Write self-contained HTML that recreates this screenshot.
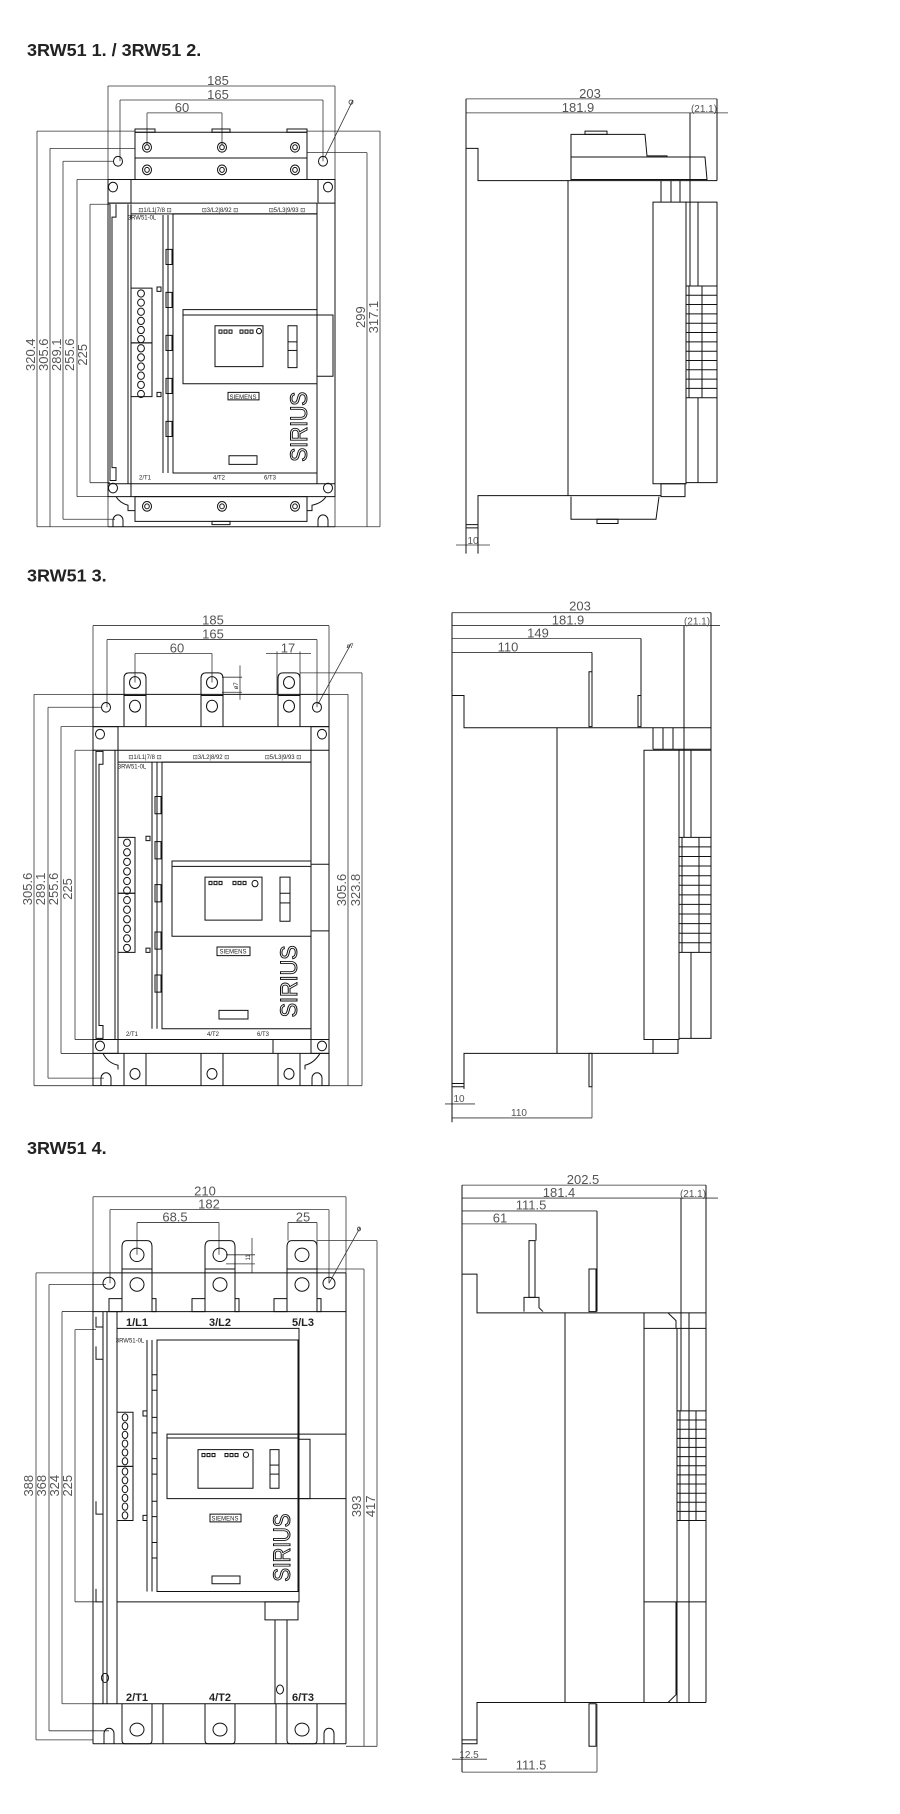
<!DOCTYPE html>
<html><head><meta charset="utf-8">
<style>
html,body{margin:0;padding:0;background:#fff;}
svg{display:block;}
.g *{vector-effect:non-scaling-stroke;}
.l{stroke:#111;stroke-width:1;fill:none;}
.t{stroke:#333;stroke-width:0.8;fill:none;}
.d{font-family:"Liberation Sans",sans-serif;font-size:13px;fill:#555;text-anchor:middle;}
.s{font-family:"Liberation Sans",sans-serif;font-size:10px;fill:#555;text-anchor:middle;}
.tt{font-family:"Liberation Sans",sans-serif;font-size:18px;font-weight:bold;fill:#222;}
.lb{font-family:"Liberation Sans",sans-serif;font-size:11px;font-weight:bold;fill:#222;text-anchor:middle;}
.tn{font-family:"Liberation Sans",sans-serif;font-size:6px;fill:#222;text-anchor:middle;}
.si{font-family:"Liberation Sans",sans-serif;font-size:24px;fill:#fff;stroke:#111;stroke-width:1;text-anchor:middle;}
</style></head><body>
<svg width="900" height="1814" viewBox="0 0 900 1814" xmlns="http://www.w3.org/2000/svg">

<!-- ============ SECTION 1 ============ -->
<g class="g" transform="scale(1,1.075)">
<text class="tt" transform="translate(27,52) scale(1,0.93)">3RW51 1. / 3RW51 2.</text>
<!-- dims top -->
<g class="t">
<line x1="108" y1="80" x2="335" y2="80"/><line x1="120" y1="93" x2="323" y2="93"/><line x1="147" y1="105" x2="222" y2="105"/>
<line x1="108" y1="80" x2="108" y2="490"/><line x1="335" y1="80" x2="335" y2="490"/>
<line x1="120" y1="93" x2="120" y2="150"/><line x1="323" y1="93" x2="323" y2="150"/>
<line x1="147" y1="105" x2="147" y2="135"/><line x1="222" y1="105" x2="222" y2="135"/>
<line x1="325" y1="146" x2="353" y2="93"/><circle cx="351" cy="95" r="2"/>
<!-- left dims -->
<line x1="37" y1="122" x2="37" y2="490"/><line x1="37" y1="122" x2="135" y2="122"/><line x1="37" y1="490" x2="108" y2="490"/>
<line x1="50" y1="138" x2="50" y2="490"/><line x1="50" y1="138" x2="135" y2="138"/>
<line x1="63" y1="150" x2="63" y2="483"/><line x1="63" y1="150" x2="113" y2="150"/><line x1="63" y1="483" x2="115" y2="483"/>
<line x1="77" y1="167" x2="77" y2="462"/><line x1="77" y1="167" x2="108" y2="167"/><line x1="77" y1="462" x2="108" y2="462"/>
<line x1="90" y1="190" x2="90" y2="449"/><line x1="90" y1="190" x2="110" y2="190"/><line x1="90" y1="449" x2="110" y2="449"/>
<!-- right dims -->
<line x1="367" y1="142" x2="367" y2="490"/><line x1="307" y1="142" x2="367" y2="142"/><line x1="335" y1="490" x2="380" y2="490"/>
<line x1="380" y1="122" x2="380" y2="490"/><line x1="307" y1="122" x2="380" y2="122"/>
</g>
<text class="d" transform="translate(218,79) scale(1,0.93)">185</text>
<text class="d" transform="translate(218,92) scale(1,0.93)">165</text>
<text class="d" transform="translate(182,104) scale(1,0.93)">60</text>
<text class="d" transform="translate(35,330) scale(1,0.93) rotate(-90)">320.4</text>
<text class="d" transform="translate(48,330) scale(1,0.93) rotate(-90)">305.6</text>
<text class="d" transform="translate(61,330) scale(1,0.93) rotate(-90)">289.1</text>
<text class="d" transform="translate(74,330) scale(1,0.93) rotate(-90)">255.6</text>
<text class="d" transform="translate(87,330) scale(1,0.93) rotate(-90)">225</text>
<text class="d" transform="translate(365,295) scale(1,0.93) rotate(-90)">299</text>
<text class="d" transform="translate(378,295) scale(1,0.93) rotate(-90)">317.1</text>
<!-- body -->
<g class="l">
<rect x="135" y="123" width="172" height="24"/>
<rect x="135" y="120" width="20" height="3"/><rect x="212" y="120" width="18" height="3"/><rect x="287" y="120" width="20" height="3"/>
<rect x="135" y="147" width="172" height="20"/>
<circle cx="147" cy="137" r="4.5"/><circle cx="222" cy="137" r="4.5"/><circle cx="295" cy="137" r="4.5"/>
<circle cx="147" cy="137" r="2.3"/><circle cx="222" cy="137" r="2.3"/><circle cx="295" cy="137" r="2.3"/>
<circle cx="147" cy="158" r="4.5"/><circle cx="222" cy="158" r="4.5"/><circle cx="295" cy="158" r="4.5"/>
<circle cx="147" cy="158" r="2.3"/><circle cx="222" cy="158" r="2.3"/><circle cx="295" cy="158" r="2.3"/>
<circle cx="118" cy="150" r="4.5"/><circle cx="323" cy="150" r="4.5"/>
<rect x="108" y="167" width="227" height="295"/>
<rect x="108" y="167" width="23" height="22"/><rect x="318" y="167" width="17" height="22"/>
<circle cx="113" cy="174" r="4.5"/><circle cx="328" cy="174" r="4.5"/><circle cx="113" cy="454" r="4.5"/><circle cx="328" cy="454" r="4.5"/>
<line x1="108" y1="189" x2="317" y2="189"/><line x1="317" y1="189" x2="317" y2="450"/><line x1="108" y1="450" x2="335" y2="450"/>
<path d="M110,190 V447 H116 V435 H112 V202 H116 V190"/>
<line x1="128" y1="190" x2="128" y2="450"/><line x1="131" y1="190" x2="131" y2="462"/>
<line x1="131" y1="199" x2="317" y2="199"/>
<rect x="173" y="199" width="144" height="241"/>
<line x1="163" y1="200" x2="163" y2="440"/><line x1="168" y1="200" x2="168" y2="440"/>
<rect x="166" y="232" width="6" height="14"/><rect x="166" y="272" width="6" height="14"/><rect x="166" y="312" width="6" height="14"/><rect x="166" y="352" width="6" height="14"/><rect x="166" y="392" width="6" height="14"/>
<rect x="131" y="268" width="21" height="51"/><rect x="131" y="319" width="21" height="50"/>
<rect x="157" y="267" width="4" height="4"/><rect x="157" y="365" width="4" height="4"/>
<rect x="183" y="288" width="134" height="69"/><line x1="183" y1="293" x2="317" y2="293"/>
<rect x="317" y="293" width="16" height="57"/>
<rect x="215" y="303" width="48" height="38"/>
<rect x="288" y="303" width="9" height="39"/><line x1="288" y1="318" x2="297" y2="318"/><line x1="288" y1="326" x2="297" y2="326"/>
<rect x="228" y="365" width="31" height="7"/>
<rect x="229" y="424" width="28" height="8"/>
<rect x="135" y="462" width="172" height="23"/>
<circle cx="147" cy="471" r="4.5"/><circle cx="222" cy="471" r="4.5"/><circle cx="295" cy="471" r="4.5"/>
<circle cx="147" cy="471" r="2.3"/><circle cx="222" cy="471" r="2.3"/><circle cx="295" cy="471" r="2.3"/>
<rect x="212" y="485" width="18" height="3"/>
<path d="M113,490 V484 A5,5 0 0 1 123,484 V490"/><path d="M318,490 V484 A5,5 0 0 1 328,484 V490"/>
<path d="M116,462 Q120,468 128,470 V475 H135"/><path d="M326,462 Q322,468 312,470 V475 H307"/>
<line x1="108" y1="490" x2="335" y2="490"/>
</g>
<g class="l">
<circle cx="141" cy="273" r="3.4"/><circle cx="141" cy="281.5" r="3.4"/><circle cx="141" cy="290" r="3.4"/><circle cx="141" cy="298.5" r="3.4"/><circle cx="141" cy="307" r="3.4"/><circle cx="141" cy="315.5" r="3.4"/>
<circle cx="141" cy="324" r="3.4"/><circle cx="141" cy="332.5" r="3.4"/><circle cx="141" cy="341" r="3.4"/><circle cx="141" cy="349.5" r="3.4"/><circle cx="141" cy="358" r="3.4"/><circle cx="141" cy="366.5" r="3.4"/>
<rect x="219" y="307" width="3" height="3"/><rect x="224" y="307" width="3" height="3"/><rect x="229" y="307" width="3" height="3"/><rect x="240" y="307" width="3" height="3"/><rect x="245" y="307" width="3" height="3"/><rect x="250" y="307" width="3" height="3"/><circle cx="259" cy="308" r="2.5"/>
</g>
<text class="tn" transform="translate(155,197) scale(1,0.93)">⊡1/L1|7/8 ⊡</text>
<text class="tn" transform="translate(220,197) scale(1,0.93)">⊡3/L2|8/92 ⊡</text>
<text class="tn" transform="translate(287,197) scale(1,0.93)">⊡5/L3|9/93 ⊡</text>
<text class="tn" transform="translate(142,204) scale(1,0.93)">3RW51-0L</text>
<text class="tn" transform="translate(243,371) scale(1,0.93)">SIEMENS</text>
<text class="tn" transform="translate(145,446) scale(1,0.93)">2/T1</text>
<text class="tn" transform="translate(219,446) scale(1,0.93)">4/T2</text>
<text class="tn" transform="translate(270,446) scale(1,0.93)">6/T3</text>
<text class="si" textLength="70" lengthAdjust="spacingAndGlyphs" transform="translate(307,397) scale(1,0.93) rotate(-90)">SIRIUS</text>

<!-- side 1 -->
<g class="t">
<line x1="466" y1="92" x2="717" y2="92"/><line x1="466" y1="105" x2="728" y2="105"/>
<line x1="456" y1="507" x2="490" y2="507"/>
</g>
<text class="d" transform="translate(590,91) scale(1,0.93)">203</text>
<text class="d" transform="translate(578,104) scale(1,0.93)">181.9</text>
<text class="s" transform="translate(704,104) scale(1,0.93)">(21.1)</text>
<text class="s" font-size="11" transform="translate(473,506) scale(1,0.93)">10</text>
<g class="l">
<line x1="466" y1="92" x2="466" y2="515"/><line x1="717" y1="92" x2="717" y2="168"/><line x1="690" y1="105" x2="690" y2="266"/>
<path d="M466,138 H478 V168 H717"/>
<path d="M571,167 V125 H645 L647,145 H667 V146 H705 L707,167 Z"/><line x1="571" y1="146" x2="705" y2="146"/><rect x="585" y="122" width="22" height="3"/>
<line x1="568" y1="168" x2="568" y2="461"/>
<line x1="661" y1="168" x2="661" y2="188"/><line x1="671" y1="168" x2="671" y2="188"/><line x1="680" y1="168" x2="680" y2="188"/>
<rect x="653" y="188" width="33" height="262"/>
<rect x="686" y="188" width="31" height="261"/>
<line x1="698" y1="188" x2="698" y2="266"/><line x1="698" y1="370" x2="698" y2="449"/>
<rect x="686" y="266" width="31" height="104"/>
<line x1="686" y1="274.7" x2="717" y2="274.7"/><line x1="686" y1="283.3" x2="717" y2="283.3"/><line x1="686" y1="292" x2="717" y2="292"/><line x1="686" y1="300.7" x2="717" y2="300.7"/><line x1="686" y1="309.3" x2="717" y2="309.3"/><line x1="686" y1="318" x2="717" y2="318"/><line x1="686" y1="326.7" x2="717" y2="326.7"/><line x1="686" y1="335.3" x2="717" y2="335.3"/><line x1="686" y1="344" x2="717" y2="344"/><line x1="686" y1="352.7" x2="717" y2="352.7"/><line x1="686" y1="361.3" x2="717" y2="361.3"/>
<line x1="689" y1="266" x2="689" y2="370"/><line x1="702" y1="266" x2="702" y2="370"/>
<path d="M478,515 V461 H661"/>
<rect x="661" y="450" width="24" height="12"/>
<path d="M571,462 V483 H656 L659,462"/><rect x="597" y="483" width="21" height="4"/>
<rect x="466" y="488" width="12" height="3"/>
</g>
</g>

<!-- ============ SECTION 2 ============ -->
<g class="g" transform="translate(0,560) scale(1,1.075) translate(0,-560)">
<text class="tt" transform="translate(27,580) scale(1,0.93)">3RW51 3.</text>
<g class="t">
<line x1="93" y1="621" x2="329" y2="621"/><line x1="107" y1="634" x2="317" y2="634"/><line x1="135" y1="647" x2="212" y2="647"/><line x1="266" y1="647" x2="311" y2="647"/>
<line x1="93" y1="621" x2="93" y2="685"/><line x1="329" y1="621" x2="329" y2="685"/>
<line x1="107" y1="634" x2="107" y2="697"/><line x1="317" y1="634" x2="317" y2="697"/>
<line x1="135" y1="647" x2="135" y2="674"/><line x1="212" y1="647" x2="212" y2="674"/>
<line x1="277" y1="645" x2="277" y2="685"/><line x1="300" y1="645" x2="300" y2="685"/>
<line x1="240" y1="658" x2="240" y2="690"/><line x1="222" y1="669" x2="242" y2="669"/><line x1="222" y1="683" x2="242" y2="683"/>
<line x1="318" y1="694" x2="351" y2="638"/>
<line x1="34" y1="685" x2="34" y2="1049"/><line x1="34" y1="685" x2="93" y2="685"/><line x1="34" y1="1049" x2="93" y2="1049"/>
<line x1="48" y1="697" x2="48" y2="1042"/><line x1="48" y1="697" x2="101" y2="697"/><line x1="48" y1="1042" x2="104" y2="1042"/>
<line x1="61" y1="715" x2="61" y2="1019"/><line x1="61" y1="715" x2="93" y2="715"/><line x1="61" y1="1019" x2="93" y2="1019"/>
<line x1="75" y1="737" x2="75" y2="1006"/><line x1="75" y1="737" x2="96" y2="737"/><line x1="75" y1="1006" x2="96" y2="1006"/>
<line x1="348" y1="685" x2="348" y2="1049"/><line x1="329" y1="685" x2="348" y2="685"/><line x1="329" y1="1049" x2="362" y2="1049"/>
<line x1="362" y1="665" x2="362" y2="1049"/><line x1="300" y1="665" x2="362" y2="665"/>
</g>
<text class="d" transform="translate(213,620) scale(1,0.93)">185</text>
<text class="d" transform="translate(213,633) scale(1,0.93)">165</text>
<text class="d" transform="translate(177,646) scale(1,0.93)">60</text>
<text class="d" transform="translate(288,646) scale(1,0.93)">17</text>
<text class="tn" transform="translate(238,677) scale(1,0.93) rotate(-90)">ø7</text>
<text class="tn" font-size="8" transform="translate(350,642) scale(1,0.93)">ø7</text>
<text class="d" transform="translate(32,866) scale(1,0.93) rotate(-90)">305.6</text>
<text class="d" transform="translate(45,866) scale(1,0.93) rotate(-90)">289.1</text>
<text class="d" transform="translate(58,866) scale(1,0.93) rotate(-90)">255.6</text>
<text class="d" transform="translate(72,866) scale(1,0.93) rotate(-90)">225</text>
<text class="d" transform="translate(346,867) scale(1,0.93) rotate(-90)">305.6</text>
<text class="d" transform="translate(360,867) scale(1,0.93) rotate(-90)">323.8</text>
<g class="l">
<line x1="93" y1="685" x2="329" y2="685"/><line x1="93" y1="685" x2="93" y2="1049"/><line x1="329" y1="685" x2="329" y2="1049"/>
<path d="M124,715 V670 Q124,665 129,665 H141 Q146,665 146,670 V715"/><line x1="124" y1="686" x2="146" y2="686"/>
<path d="M201,715 V670 Q201,665 206,665 H218 Q223,665 223,670 V715"/><line x1="201" y1="686" x2="223" y2="686"/>
<path d="M278,715 V670 Q278,665 283,665 H295 Q300,665 300,670 V715"/><line x1="278" y1="686" x2="300" y2="686"/>
<circle cx="135" cy="674" r="5.5"/><circle cx="212" cy="674" r="5.5"/><circle cx="289" cy="674" r="5.5"/>
<circle cx="135" cy="696" r="5.5"/><circle cx="212" cy="696" r="5.5"/><circle cx="289" cy="696" r="5.5"/>
<circle cx="106" cy="697" r="4.5"/><circle cx="317" cy="697" r="4.5"/>
<line x1="93" y1="715" x2="329" y2="715"/>
<rect x="93" y="715" width="25" height="22"/><rect x="311" y="715" width="18" height="22"/>
<circle cx="100" cy="722" r="4.5"/><circle cx="322" cy="722" r="4.5"/><circle cx="100" cy="1012" r="4.5"/><circle cx="322" cy="1012" r="4.5"/>
<line x1="118" y1="715" x2="118" y2="1019"/>
<path d="M96,738 V1005 H103 V993 H99 V750 H103 V738 Z"/><line x1="115" y1="737" x2="115" y2="1006"/>
<rect x="118" y="737" width="193" height="269"/><line x1="118" y1="748" x2="311" y2="748"/>
<rect x="162" y="748" width="149" height="248"/>
<line x1="152" y1="748" x2="152" y2="996"/><line x1="157" y1="748" x2="157" y2="996"/>
<rect x="155" y="780" width="6" height="16"/><rect x="155" y="822" width="6" height="16"/><rect x="155" y="862" width="6" height="16"/><rect x="155" y="906" width="6" height="16"/><rect x="155" y="946" width="6" height="16"/>
<rect x="118" y="818" width="17" height="52"/><rect x="118" y="870" width="17" height="55"/>
<rect x="146" y="817" width="4" height="4"/><rect x="146" y="921" width="4" height="4"/>
<rect x="172" y="840" width="139" height="70"/><line x1="172" y1="845" x2="311" y2="845"/>
<rect x="311" y="843" width="18" height="62"/>
<rect x="205" y="855" width="57" height="40"/>
<rect x="280" y="855" width="10" height="41"/><line x1="280" y1="870" x2="290" y2="870"/><line x1="280" y1="879" x2="290" y2="879"/>
<rect x="217" y="920" width="33" height="8"/>
<rect x="219" y="979" width="29" height="8"/>
<line x1="93" y1="1006" x2="311" y2="1006"/><line x1="93" y1="1019" x2="329" y2="1019"/>
<line x1="273" y1="1006" x2="273" y2="1019"/><rect x="93" y="1006" width="25" height="13"/><rect x="311" y="1006" width="18" height="13"/>
<path d="M124,1019 V1049 M146,1019 V1049 M201,1019 V1049 M223,1019 V1049 M278,1019 V1049 M300,1019 V1049"/>
<circle cx="135" cy="1038" r="5"/><circle cx="212" cy="1038" r="5"/><circle cx="289" cy="1038" r="5"/>
<path d="M101,1049 V1042 A5,5 0 0 1 111,1042 V1049"/><path d="M312,1049 V1042 A5,5 0 0 1 322,1042 V1049"/>
<path d="M103,1019 Q108,1028 118,1030 V1034"/><path d="M320,1019 Q314,1028 305,1030 V1034"/>
<line x1="93" y1="1049" x2="329" y2="1049"/>
</g>
<g class="l">
<circle cx="127" cy="823" r="3.4"/><circle cx="127" cy="831.9" r="3.4"/><circle cx="127" cy="840.8" r="3.4"/><circle cx="127" cy="849.7" r="3.4"/><circle cx="127" cy="858.6" r="3.4"/><circle cx="127" cy="867.5" r="3.4"/>
<circle cx="127" cy="876.4" r="3.4"/><circle cx="127" cy="885.3" r="3.4"/><circle cx="127" cy="894.2" r="3.4"/><circle cx="127" cy="903.1" r="3.4"/><circle cx="127" cy="912" r="3.4"/><circle cx="127" cy="920.9" r="3.4"/>
<rect x="209" y="859" width="3" height="3"/><rect x="214" y="859" width="3" height="3"/><rect x="219" y="859" width="3" height="3"/><rect x="233" y="859" width="3" height="3"/><rect x="238" y="859" width="3" height="3"/><rect x="243" y="859" width="3" height="3"/><circle cx="255" cy="861" r="3"/>
</g>
<text class="tn" transform="translate(145,745) scale(1,0.93)">⊡1/L1|7/8 ⊡</text>
<text class="tn" transform="translate(211,745) scale(1,0.93)">⊡3/L2|8/92 ⊡</text>
<text class="tn" transform="translate(283,745) scale(1,0.93)">⊡5/L3|9/93 ⊡</text>
<text class="tn" transform="translate(132,754) scale(1,0.93)">3RW51-0L</text>
<text class="tn" transform="translate(233,926) scale(1,0.93)">SIEMENS</text>
<text class="tn" transform="translate(132,1003) scale(1,0.93)">2/T1</text>
<text class="tn" transform="translate(213,1003) scale(1,0.93)">4/T2</text>
<text class="tn" transform="translate(263,1003) scale(1,0.93)">6/T3</text>
<text class="si" textLength="72" lengthAdjust="spacingAndGlyphs" transform="translate(297,952) scale(1,0.93) rotate(-90)">SIRIUS</text>

<!-- side 2 -->
<g class="t">
<line x1="452" y1="609" x2="711" y2="609"/><line x1="452" y1="621" x2="720" y2="621"/><line x1="452" y1="633" x2="641" y2="633"/><line x1="452" y1="646" x2="592" y2="646"/>
<line x1="445" y1="1066" x2="475" y2="1066"/><line x1="452" y1="1079" x2="592" y2="1079"/>
<line x1="592" y1="1019" x2="592" y2="1079"/>
</g>
<text class="d" transform="translate(580,607) scale(1,0.93)">203</text>
<text class="d" transform="translate(568,620) scale(1,0.93)">181.9</text>
<text class="s" transform="translate(697,620) scale(1,0.93)">(21.1)</text>
<text class="d" transform="translate(538,632) scale(1,0.93)">149</text>
<text class="d" transform="translate(508,645) scale(1,0.93)">110</text>
<text class="s" font-size="11" transform="translate(459,1064) scale(1,0.93)">10</text>
<text class="s" font-size="11" transform="translate(519,1077) scale(1,0.93)">110</text>
<g class="l">
<line x1="452" y1="609" x2="452" y2="1083"/><line x1="711" y1="609" x2="711" y2="1005"/><line x1="684" y1="621" x2="684" y2="818"/>
<line x1="641" y1="633" x2="641" y2="715"/><line x1="592" y1="646" x2="592" y2="715"/>
<path d="M452,686 H464 V716 H711"/>
<rect x="589" y="664" width="3" height="51"/><rect x="638" y="686" width="3" height="29"/>
<line x1="557" y1="716" x2="557" y2="1019"/>
<line x1="653" y1="716" x2="653" y2="736"/><line x1="663" y1="716" x2="663" y2="736"/><line x1="673" y1="716" x2="673" y2="736"/><line x1="653" y1="736" x2="711" y2="736"/>
<rect x="644" y="737" width="35" height="269"/>
<rect x="679" y="737" width="32" height="268"/>
<line x1="691" y1="737" x2="691" y2="818"/><line x1="691" y1="925" x2="691" y2="1005"/>
<rect x="679" y="818" width="32" height="107"/>
<line x1="679" y1="826.9" x2="711" y2="826.9"/><line x1="679" y1="835.8" x2="711" y2="835.8"/><line x1="679" y1="844.7" x2="711" y2="844.7"/><line x1="679" y1="853.7" x2="711" y2="853.7"/><line x1="679" y1="862.6" x2="711" y2="862.6"/><line x1="679" y1="871.5" x2="711" y2="871.5"/><line x1="679" y1="880.4" x2="711" y2="880.4"/><line x1="679" y1="889.3" x2="711" y2="889.3"/><line x1="679" y1="898.2" x2="711" y2="898.2"/><line x1="679" y1="907.2" x2="711" y2="907.2"/><line x1="679" y1="916.1" x2="711" y2="916.1"/>
<line x1="682" y1="818" x2="682" y2="925"/><line x1="699" y1="818" x2="699" y2="925"/>
<rect x="653" y="1006" width="25" height="13"/>
<path d="M653,1019 H464 V1052"/><rect x="452" y="1047" width="12" height="3"/>
<rect x="589" y="1019" width="3" height="31"/>
</g>
</g>

<!-- ============ SECTION 3 ============ -->
<g class="g" transform="translate(0,1140) scale(1,1.29) translate(0,-1140)">
<text class="tt" transform="translate(27,1151) scale(1,0.775)">3RW51 4.</text>
<g class="t">
<line x1="93" y1="1184" x2="346" y2="1184"/><line x1="110" y1="1194" x2="329" y2="1194"/><line x1="137" y1="1204" x2="219" y2="1204"/><line x1="288" y1="1204" x2="317" y2="1204"/>
<line x1="93" y1="1184" x2="93" y2="1243"/><line x1="346" y1="1184" x2="346" y2="1243"/>
<line x1="110" y1="1194" x2="110" y2="1251"/><line x1="329" y1="1194" x2="329" y2="1251"/>
<line x1="137" y1="1204" x2="137" y2="1229"/><line x1="219" y1="1204" x2="219" y2="1229"/>
<line x1="288" y1="1204" x2="288" y2="1218"/><line x1="317" y1="1204" x2="317" y2="1222"/>
<line x1="252" y1="1216" x2="252" y2="1243"/><line x1="226" y1="1229" x2="255" y2="1229"/><line x1="226" y1="1236" x2="255" y2="1236"/>
<line x1="329" y1="1251" x2="360" y2="1208"/>
<line x1="36" y1="1243" x2="36" y2="1605"/><line x1="36" y1="1243" x2="93" y2="1243"/><line x1="36" y1="1605" x2="93" y2="1605"/>
<line x1="49" y1="1252" x2="49" y2="1598"/><line x1="49" y1="1252" x2="106" y2="1252"/><line x1="49" y1="1598" x2="109" y2="1598"/>
<line x1="62" y1="1273" x2="62" y2="1577"/><line x1="62" y1="1273" x2="93" y2="1273"/><line x1="62" y1="1577" x2="93" y2="1577"/>
<line x1="75" y1="1287" x2="75" y2="1498"/><line x1="75" y1="1287" x2="96" y2="1287"/><line x1="75" y1="1498" x2="96" y2="1498"/>
<line x1="364" y1="1240" x2="364" y2="1610"/><line x1="317" y1="1240" x2="364" y2="1240"/>
<line x1="377" y1="1218" x2="377" y2="1610"/><line x1="317" y1="1218" x2="377" y2="1218"/><line x1="346" y1="1610" x2="377" y2="1610"/>
</g>
<circle class="t" cx="359" cy="1209" r="1.5"/>
<text class="d" transform="translate(205,1183) scale(1,0.775)">210</text>
<text class="d" transform="translate(209,1193) scale(1,0.775)">182</text>
<text class="d" transform="translate(175,1203) scale(1,0.775)">68.5</text>
<text class="d" transform="translate(303,1203) scale(1,0.775)">25</text>
<text class="tn" transform="translate(250,1231) scale(1,0.775) rotate(-90)">11</text>
<text class="d" transform="translate(33,1408) scale(1,0.775) rotate(-90)">388</text>
<text class="d" transform="translate(46,1408) scale(1,0.775) rotate(-90)">368</text>
<text class="d" transform="translate(59,1408) scale(1,0.775) rotate(-90)">324</text>
<text class="d" transform="translate(72,1408) scale(1,0.775) rotate(-90)">225</text>
<text class="d" transform="translate(361,1424) scale(1,0.775) rotate(-90)">393</text>
<text class="d" transform="translate(375,1424) scale(1,0.775) rotate(-90)">417</text>
<g class="l">
<line x1="93" y1="1243" x2="346" y2="1243"/><line x1="93" y1="1243" x2="93" y2="1608"/><line x1="346" y1="1243" x2="346" y2="1608"/>
<path d="M122,1273 V1223 Q122,1218 127,1218 H147 Q152,1218 152,1223 V1273"/><line x1="122" y1="1240" x2="152" y2="1240"/>
<path d="M205,1273 V1223 Q205,1218 210,1218 H230 Q235,1218 235,1223 V1273"/><line x1="205" y1="1240" x2="235" y2="1240"/>
<path d="M287,1273 V1223 Q287,1218 292,1218 H312 Q317,1218 317,1223 V1273"/><line x1="287" y1="1240" x2="317" y2="1240"/>
<ellipse cx="137" cy="1229" rx="7" ry="5.2"/><ellipse cx="220" cy="1229" rx="7" ry="5.2"/><ellipse cx="302" cy="1229" rx="7" ry="5.2"/>
<ellipse cx="137" cy="1252" rx="7" ry="5.2"/><ellipse cx="220" cy="1252" rx="7" ry="5.2"/><ellipse cx="302" cy="1252" rx="7" ry="5.2"/>
<rect x="109" y="1263" width="13" height="10"/><rect x="152" y="1263" width="4" height="10"/>
<rect x="192" y="1263" width="13" height="10"/><rect x="235" y="1263" width="4" height="10"/>
<rect x="274" y="1263" width="13" height="10"/><rect x="317" y="1263" width="4" height="10"/>
<ellipse cx="109" cy="1251" rx="6" ry="4.6"/><ellipse cx="329" cy="1251" rx="6" ry="4.6"/>
<line x1="93" y1="1273" x2="346" y2="1273"/>
<line x1="103" y1="1273" x2="103" y2="1577"/><line x1="107" y1="1273" x2="107" y2="1577"/><line x1="117" y1="1273" x2="117" y2="1577"/>
<path d="M96,1277 V1285 H103 M96,1300 V1310 H103 M96,1420 V1430 H103 M96,1488 V1498 H103"/>
<rect x="117" y="1286" width="182" height="212"/>
<rect x="157" y="1295" width="141" height="195"/>
<line x1="147" y1="1295" x2="147" y2="1490"/><line x1="152" y1="1295" x2="152" y2="1490"/>
<rect x="152" y="1322" width="5" height="12"/><rect x="152" y="1355" width="5" height="12"/><rect x="152" y="1387" width="5" height="12"/><rect x="152" y="1420" width="5" height="12"/><rect x="152" y="1452" width="5" height="12"/>
<rect x="117" y="1351" width="16" height="42"/><rect x="117" y="1393" width="16" height="42"/>
<rect x="143" y="1350" width="4" height="4"/><rect x="143" y="1431" width="4" height="4"/>
<rect x="167" y="1368" width="131" height="50"/><line x1="167" y1="1371" x2="298" y2="1371"/>
<rect x="298" y="1372" width="12" height="46"/><line x1="298" y1="1368" x2="346" y2="1368"/><line x1="298" y1="1418" x2="346" y2="1418"/>
<rect x="198" y="1380" width="55" height="30"/>
<rect x="270" y="1380" width="9" height="30"/><line x1="270" y1="1392" x2="279" y2="1392"/><line x1="270" y1="1399" x2="279" y2="1399"/>
<rect x="210" y="1430" width="31" height="6"/>
<rect x="212" y="1478" width="28" height="6"/>
<rect x="265" y="1498" width="33" height="14"/>
<line x1="275" y1="1512" x2="275" y2="1577"/><line x1="287" y1="1512" x2="287" y2="1577"/>
<circle cx="105" cy="1557" r="3.5"/><circle cx="280" cy="1566" r="3.5"/>
<line x1="93" y1="1577" x2="346" y2="1577"/>
<path d="M122,1577 V1605 Q122,1608 125,1608 H149 Q152,1608 152,1605 V1577"/>
<path d="M205,1577 V1605 Q205,1608 208,1608 H232 Q235,1608 235,1605 V1577"/>
<path d="M287,1577 V1605 Q287,1608 290,1608 H314 Q317,1608 317,1605 V1577"/>
<line x1="163" y1="1577" x2="163" y2="1608"/><line x1="276" y1="1577" x2="276" y2="1608"/>
<ellipse cx="137" cy="1597" rx="7" ry="5"/><ellipse cx="220" cy="1597" rx="7" ry="5"/><ellipse cx="302" cy="1597" rx="7" ry="5"/>
<path d="M104,1608 V1600 A5,4 0 0 1 114,1600 V1608"/><path d="M324,1608 V1600 A5,4 0 0 1 334,1600 V1608"/>
<line x1="93" y1="1608" x2="346" y2="1608"/>
</g>
<g class="l">
<circle cx="125" cy="1355" r="2.8"/><circle cx="125" cy="1361.8" r="2.8"/><circle cx="125" cy="1368.6" r="2.8"/><circle cx="125" cy="1375.4" r="2.8"/><circle cx="125" cy="1382.2" r="2.8"/><circle cx="125" cy="1389" r="2.8"/>
<circle cx="125" cy="1397" r="2.8"/><circle cx="125" cy="1403.8" r="2.8"/><circle cx="125" cy="1410.6" r="2.8"/><circle cx="125" cy="1417.4" r="2.8"/><circle cx="125" cy="1424.2" r="2.8"/><circle cx="125" cy="1431" r="2.8"/>
<rect x="202" y="1383" width="3" height="2.4"/><rect x="207" y="1383" width="3" height="2.4"/><rect x="212" y="1383" width="3" height="2.4"/><rect x="225" y="1383" width="3" height="2.4"/><rect x="230" y="1383" width="3" height="2.4"/><rect x="235" y="1383" width="3" height="2.4"/><ellipse cx="246" cy="1384" rx="2.6" ry="2"/>
</g>
<text class="lb" transform="translate(137,1284) scale(1,0.775)">1/L1</text>
<text class="lb" transform="translate(220,1284) scale(1,0.775)">3/L2</text>
<text class="lb" transform="translate(303,1284) scale(1,0.775)">5/L3</text>
<text class="lb" transform="translate(137,1575) scale(1,0.775)">2/T1</text>
<text class="lb" transform="translate(220,1575) scale(1,0.775)">4/T2</text>
<text class="lb" transform="translate(303,1575) scale(1,0.775)">6/T3</text>
<text class="tn" transform="translate(130,1297) scale(1,0.775)">3RW51-0L</text>
<text class="tn" transform="translate(225,1435) scale(1,0.775)">SIEMENS</text>
<text class="si" textLength="68" lengthAdjust="spacingAndGlyphs" transform="translate(290,1456) scale(1,0.775) rotate(-90)">SIRIUS</text>

<!-- side 3 -->
<g class="t">
<line x1="462" y1="1175" x2="706" y2="1175"/><line x1="462" y1="1185" x2="718" y2="1185"/><line x1="462" y1="1195" x2="597" y2="1195"/><line x1="462" y1="1205" x2="536" y2="1205"/>
<line x1="452" y1="1620" x2="487" y2="1620"/><line x1="462" y1="1630" x2="597" y2="1630"/>
<line x1="597" y1="1577" x2="597" y2="1630"/>
</g>
<text class="d" transform="translate(583,1174) scale(1,0.775)">202.5</text>
<text class="d" transform="translate(559,1184) scale(1,0.775)">181.4</text>
<text class="s" transform="translate(693,1184) scale(1,0.775)">(21.1)</text>
<text class="d" transform="translate(531,1194) scale(1,0.775)">111.5</text>
<text class="d" transform="translate(500,1204) scale(1,0.775)">61</text>
<text class="s" font-size="8" transform="translate(469,1619) scale(1,0.775)">12.5</text>
<text class="d" transform="translate(531,1628) scale(1,0.775)">111.5</text>
<g class="l">
<line x1="462" y1="1175" x2="462" y2="1630"/><line x1="706" y1="1175" x2="706" y2="1576"/><line x1="681" y1="1185" x2="681" y2="1350"/>
<line x1="597" y1="1195" x2="597" y2="1273"/><line x1="536" y1="1205" x2="536" y2="1218"/>
<path d="M462,1244 H477 V1274 H668 L676,1280 V1286"/>
<line x1="668" y1="1274" x2="706" y2="1274"/>
<rect x="529" y="1218" width="6" height="44"/><path d="M524,1273 V1262 H539 V1270 L543,1273"/>
<rect x="589" y="1240" width="7" height="33"/>
<line x1="565" y1="1274" x2="565" y2="1576"/><line x1="644" y1="1274" x2="644" y2="1576"/>
<line x1="677" y1="1286" x2="677" y2="1576"/><line x1="689" y1="1274" x2="689" y2="1576"/>
<line x1="644" y1="1286" x2="706" y2="1286"/><line x1="644" y1="1498" x2="706" y2="1498"/>
<rect x="677" y="1350" width="29" height="85"/>
<line x1="677" y1="1357.1" x2="706" y2="1357.1"/><line x1="677" y1="1364.2" x2="706" y2="1364.2"/><line x1="677" y1="1371.3" x2="706" y2="1371.3"/><line x1="677" y1="1378.3" x2="706" y2="1378.3"/><line x1="677" y1="1385.4" x2="706" y2="1385.4"/><line x1="677" y1="1392.5" x2="706" y2="1392.5"/><line x1="677" y1="1399.6" x2="706" y2="1399.6"/><line x1="677" y1="1406.7" x2="706" y2="1406.7"/><line x1="677" y1="1413.8" x2="706" y2="1413.8"/><line x1="677" y1="1420.8" x2="706" y2="1420.8"/><line x1="677" y1="1427.9" x2="706" y2="1427.9"/>
<line x1="680" y1="1350" x2="680" y2="1435"/><line x1="696" y1="1350" x2="696" y2="1435"/>
<path d="M477,1606 V1576 H668 L676,1570 V1498"/><line x1="668" y1="1576" x2="706" y2="1576"/>
<rect x="462" y="1605" width="15" height="3"/>
<rect x="589" y="1577" width="7" height="33"/>
</g>
</g>
</svg>
</body></html>
